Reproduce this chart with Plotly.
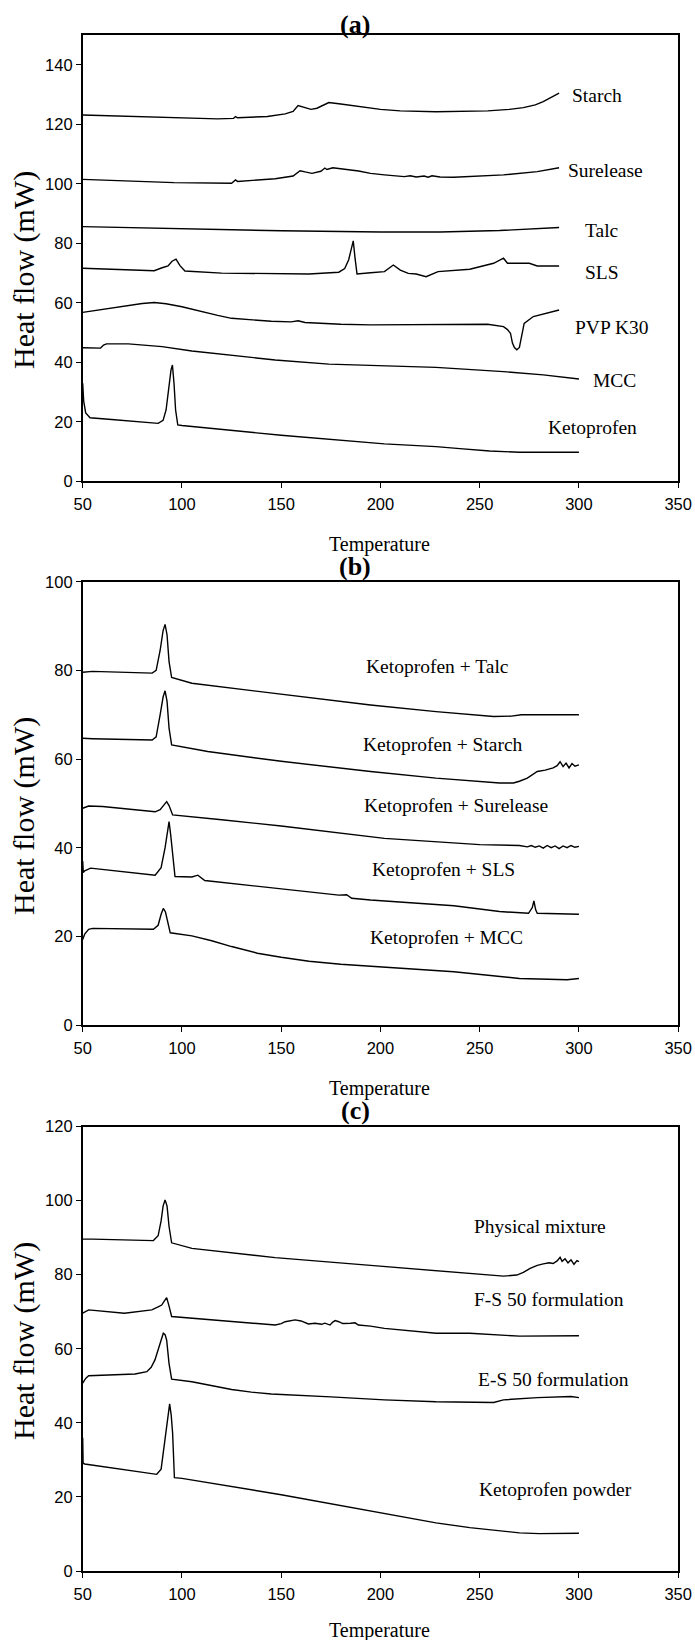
import plotly.graph_objects as go
from plotly.subplots import make_subplots

# ---------------- Panel (a) data ----------------
starch_t = [50, 80, 118, 126, 127, 128, 143, 152, 156, 158.5, 161, 165, 168, 174, 180, 190, 200, 210, 228, 254, 265, 272, 278, 282, 286, 290]
starch_v = [123.1, 122.6, 121.8, 122.0, 122.6, 122.2, 122.6, 123.5, 124.3, 126.3, 125.8, 125.0, 125.4, 127.3, 126.8, 125.8, 125.0, 124.5, 124.2, 124.5, 125.0, 125.6, 126.5, 127.6, 129.0, 130.5]

surelease_t = [50, 75, 96, 125, 127, 128, 130, 147, 156, 159.5, 162, 165.5, 170, 172, 173, 176, 189, 195, 202, 212, 215, 218, 222, 224, 226, 230, 237, 250, 262, 279, 290]
surelease_v = [101.5, 101.0, 100.4, 100.2, 101.3, 100.8, 100.9, 101.7, 102.6, 104.4, 104.0, 103.5, 104.2, 105.3, 104.8, 105.4, 104.3, 103.5, 103.0, 102.4, 102.7, 102.3, 102.6, 102.2, 102.7, 102.3, 102.2, 102.5, 103.0, 104.1, 105.4]

talc_t = [50, 100, 150, 200, 230, 260, 290]
talc_v = [85.6, 84.9, 84.2, 83.8, 83.8, 84.3, 85.3]

sls_t = [50, 86, 90, 93, 95, 97, 99, 101.5, 120, 164, 179, 182, 184, 185.5, 186.3, 187.2, 188.2, 195, 202, 206.5, 210, 214, 218, 223, 229, 245, 257, 262, 264, 275, 279, 290]
sls_v = [71.6, 70.8, 71.8, 72.4, 74.0, 74.7, 72.5, 70.7, 70.0, 69.7, 70.3, 71.5, 74.5, 79.0, 80.8, 75.0, 69.7, 70.1, 70.5, 72.7, 71.0, 69.9, 69.7, 68.8, 70.5, 71.3, 73.3, 75.0, 73.3, 73.3, 72.4, 72.4]

pvp_t = [50, 60, 70, 80, 86, 92, 100, 110, 118, 125, 135, 145, 155, 158.5, 162, 180, 195, 230, 254, 262, 264, 265.5, 266.5, 267.5, 268.7, 270, 271, 272.4, 277, 290]
pvp_v = [56.8, 57.8, 58.8, 59.8, 60.1, 59.7, 58.7, 57.0, 55.8, 54.8, 54.2, 53.8, 53.6, 54.0, 53.4, 52.8, 52.6, 52.6, 52.8, 52.0, 51.0, 49.8, 46.5, 45.0, 44.2, 45.0, 48.5, 53.1, 55.4, 57.6]

mcc_t = [50, 59, 60.5, 62, 73, 90, 105, 125, 147, 174, 202, 228, 262, 282, 300]
mcc_v = [44.9, 44.8, 45.8, 46.2, 46.2, 45.3, 43.8, 42.3, 40.8, 39.4, 38.8, 38.3, 36.9, 35.8, 34.4]

keto_t = [50, 50.5, 51.5, 53.7, 63, 88, 90.5, 92, 93.3, 94.5, 95.2, 96, 96.8, 97.9, 100, 150, 202, 228, 240, 255, 270, 300]
keto_v = [33, 27, 23, 21.4, 20.9, 19.5, 20.5, 24.0, 31.0, 37.5, 39.1, 33.0, 24.0, 19.0, 18.8, 15.5, 12.6, 11.7, 11.0, 10.2, 9.8, 9.8]

# ---------------- Panel (b) data ----------------
kt_t = [50, 55, 85, 87, 89, 90.5, 91.5, 92.5, 93.5, 94.8, 105, 130, 160, 195, 228, 257, 266, 270, 271, 300]
kt_v = [79.6, 79.8, 79.4, 80.0, 84.5, 89.0, 90.4, 88.0, 82.0, 78.4, 77.1, 75.7, 74.0, 72.2, 70.7, 69.6, 69.7, 69.9, 70.0, 70.0]

ks_t = [50, 55, 85, 87, 89, 90.5, 91.5, 92.5, 93.5, 94.8, 113, 150, 195, 228, 260, 267, 270, 274, 279, 283, 287, 289, 290.5, 292, 293.5, 295, 296.5, 298, 300]
ks_v = [64.7, 64.6, 64.3, 65.0, 70.0, 74.0, 75.4, 73.0, 67.0, 63.2, 61.7, 59.5, 57.2, 55.7, 54.6, 54.6, 55.0, 55.7, 57.2, 57.5, 58.0, 58.5, 59.4, 58.3, 59.1, 58.0, 59.0, 58.4, 58.7]

ksur_t = [50, 53, 60, 86.5, 89, 91, 92.3, 93.5, 95.3, 120, 150, 202, 237, 250, 270, 274, 276, 278, 280, 282, 284, 286, 288, 290, 292, 294, 296, 298, 300]
ksur_v = [48.9, 49.4, 49.3, 48.1, 48.6, 49.8, 50.4, 49.5, 47.4, 46.3, 44.9, 42.1, 41.2, 40.7, 40.5, 40.2, 40.5, 40.1, 40.4, 39.9, 40.5, 40.0, 40.4, 39.8, 40.4, 40.0, 40.5, 40.1, 40.3]

ksls_t = [50, 50.3, 51, 54, 86.5, 89.5, 91.5, 92.8, 93.5, 94.3, 95.3, 96.5, 105, 108, 111.5, 150, 179, 183, 185.5, 195, 237, 260, 274.6, 276.5, 277.3, 278.2, 279, 300]
ksls_v = [37.0, 34.4, 34.8, 35.4, 33.8, 35.5, 40.0, 44.5, 45.9, 43.0, 38.0, 33.5, 33.4, 33.8, 32.6, 30.7, 29.3, 29.4, 28.6, 28.2, 26.9, 25.6, 25.2, 26.5, 28.0, 26.0, 25.2, 25.0]

kmcc_t = [50, 51, 53, 55, 85.6, 88, 89.5, 90.6, 91.7, 93, 94.1, 105, 115, 125, 138, 150, 164, 180, 202, 237, 270, 285, 294, 300]
kmcc_v = [19.3, 20.5, 21.6, 21.8, 21.6, 22.5, 25.0, 26.3, 25.5, 22.5, 20.8, 20.1, 19.0, 17.7, 16.2, 15.3, 14.4, 13.7, 13.0, 12.0, 10.5, 10.4, 10.2, 10.5]

# ---------------- Panel (c) data ----------------
pm_t = [50, 55, 85.6, 88, 89.5, 90.5, 91.5, 92.5, 93.5, 94.8, 105, 147, 195, 228, 255, 262, 268.7, 272, 275.4, 279, 282, 285, 287, 289, 290.5, 291.5, 293, 294.5, 296, 297.5, 299, 300]
pm_v = [89.6, 89.6, 89.2, 90.5, 94.5, 98.5, 100.2, 98.5, 93.0, 88.6, 87.1, 84.6, 82.5, 81.1, 79.8, 79.6, 79.9, 80.6, 81.7, 82.5, 82.9, 83.2, 83.0, 83.7, 84.7, 83.6, 84.3, 83.2, 84.0, 82.8, 83.8, 83.5]

fs_t = [50, 53, 71, 84.8, 88, 89.8, 91, 92.3, 93.5, 94.8, 147, 150, 152, 157, 160, 163.7, 167, 170.4, 172, 174.6, 176, 177.2, 179, 181, 185, 187.2, 188.9, 195, 202, 228, 245, 270, 300]
fs_v = [69.6, 70.5, 69.6, 70.5, 71.3, 71.8, 72.8, 73.8, 71.5, 68.7, 66.4, 66.8, 67.3, 67.8, 67.5, 66.7, 66.9, 66.6, 66.9, 66.4, 67.2, 67.6, 67.3, 66.8, 66.9, 67.0, 66.4, 66.1, 65.5, 64.2, 64.2, 63.4, 63.5]

es_t = [50, 51.5, 53, 60, 76.4, 82.3, 84.5, 86.4, 88.5, 90.6, 91.5, 92.3, 93.5, 94.8, 105, 115, 125, 135, 145, 175, 202, 228, 257, 262, 279, 296, 300]
es_v = [50.7, 52.0, 52.7, 52.9, 53.2, 53.8, 55.0, 57.0, 60.5, 64.2, 63.8, 62.3, 56.0, 51.8, 51.1, 50.0, 49.0, 48.3, 47.8, 47.0, 46.2, 45.7, 45.5, 46.2, 46.8, 47.1, 46.8]

kp_t = [50, 50.2, 51, 87.3, 89.5, 90.6, 91.8, 92.8, 93.8, 94.6, 95.3, 96.2, 100, 150, 194.8, 228, 245, 260, 270, 280, 300]
kp_v = [36.0, 29.1, 28.9, 26.1, 27.5, 31.8, 37.0, 41.7, 45.1, 42.0, 37.2, 25.2, 25.0, 20.6, 16.2, 13.0, 11.7, 10.8, 10.3, 10.1, 10.2]

# ---------------- Labels ----------------
labels_a = ["Starch", "Surelease", "Talc", "SLS", "PVP K30", "MCC", "Ketoprofen"]
labels_a_x = [308.9, 313.2, 311.6, 311.6, 316.6, 317.8, 307.0]
labels_a_y = [129.8, 104.4, 84.2, 70.1, 51.8, 33.8, 18.0]

labels_b = ["Ketoprofen + Talc", "Ketoprofen + Starch", "Ketoprofen + Surelease", "Ketoprofen + SLS", "Ketoprofen + MCC"]
labels_b_x = [228.8, 231.3, 237.9, 231.9, 233.4]
labels_b_y = [80.8, 63.3, 49.6, 35.1, 19.8]

labels_c = ["Physical mixture", "F-S 50 formulation", "E-S 50 formulation", "Ketoprofen powder"]
labels_c_x = [280.2, 284.9, 287.4, 288.0]
labels_c_y = [93.0, 73.4, 51.8, 22.1]

panel_titles = ["(a)", "(b)", "(c)"]
y_ranges = [[0, 150], [0, 100], [0, 120]]
x_range = [50, 350]

# figure div is pinned to the top-left corner of the page
W, H = 694, 1640
SERIF = "Times New Roman, Liberation Serif, serif"
SANS = "Arial, Liberation Sans, sans-serif"


def fx(px):
    return px / W


def fy(py):
    return 1 - py / H


fig = make_subplots(rows=3, cols=1)

panels = [
    [(starch_t, starch_v), (surelease_t, surelease_v), (talc_t, talc_v), (sls_t, sls_v),
     (pvp_t, pvp_v), (mcc_t, mcc_v), (keto_t, keto_v)],
    [(kt_t, kt_v), (ks_t, ks_v), (ksur_t, ksur_v), (ksls_t, ksls_v), (kmcc_t, kmcc_v)],
    [(pm_t, pm_v), (fs_t, fs_v), (es_t, es_v), (kp_t, kp_v)],
]
labels = [(labels_a, labels_a_x, labels_a_y), (labels_b, labels_b_x, labels_b_y), (labels_c, labels_c_x, labels_c_y)]

# pixel geometry of each panel (top, bottom)
px_x = (82.7, 678.2)
px_y = [(35.0, 481.4), (581.8, 1025.0), (1126.5, 1571.0)]
title_y = [24, 566, 1110]
xtitle_y = [545, 1088, 1630]
ytitle_y = [270, 816, 1341]

for i, series in enumerate(panels):
    r = i + 1
    for t, v in series:
        fig.add_trace(go.Scatter(x=t, y=v, mode="lines", line=dict(color="black", width=1.4),
                                 showlegend=False, hoverinfo="skip"), row=r, col=1)
    names, lx, ly = labels[i]
    xref = "x" if i == 0 else f"x{i+1}"
    yref = "y" if i == 0 else f"y{i+1}"
    for n, xx, yy in zip(names, lx, ly):
        fig.add_annotation(x=xx, y=yy, xref=xref, yref=yref, text=n, showarrow=False,
                           xanchor="center", yanchor="middle",
                           font=dict(family=SERIF, size=19.5, color="black"))
    top, bot = px_y[i]
    xa = "xaxis" if i == 0 else f"xaxis{i+1}"
    ya = "yaxis" if i == 0 else f"yaxis{i+1}"
    fig.layout[xa].update(domain=[fx(px_x[0]), fx(px_x[1])], range=x_range, dtick=50, tick0=50,
                          automargin=False,
                          showgrid=False, zeroline=False, showline=True, linecolor="black", linewidth=1.5,
                          mirror=True, ticks="outside", ticklen=5, tickwidth=1.2, tickcolor="black",
                          ticklabelstandoff=2,
                          tickfont=dict(family=SANS, size=16.5, color="black"))
    fig.layout[ya].update(domain=[fy(bot), fy(top)], range=y_ranges[i], dtick=20, tick0=0,
                          automargin=False,
                          showgrid=False, zeroline=False, showline=True, linecolor="black", linewidth=1.5,
                          mirror=True, ticks="outside", ticklen=5, tickwidth=1.2, tickcolor="black",
                          tickfont=dict(family=SANS, size=16.5, color="black"))
    fig.add_annotation(x=fx(355), y=fy(title_y[i]), xref="paper", yref="paper",
                       text=f"<b>{panel_titles[i]}</b>", showarrow=False,
                       xanchor="center", yanchor="middle",
                       font=dict(family=SERIF, size=26, color="black"))
    fig.add_annotation(x=fx(380), y=fy(xtitle_y[i]), xref="paper", yref="paper",
                       text="Temperature", showarrow=False,
                       xanchor="center", yanchor="middle",
                       font=dict(family=SERIF, size=20, color="black"))
    fig.add_annotation(x=fx(24), y=fy(ytitle_y[i]), xref="paper", yref="paper",
                       text="Heat flow (mW)", textangle=-90, showarrow=False,
                       xanchor="center", yanchor="middle",
                       font=dict(family=SERIF, size=30, color="black"))

fig.update_layout(margin=dict(l=0, r=0, t=0, b=0, pad=0, autoexpand=False),
                  paper_bgcolor="white", plot_bgcolor="white", showlegend=False)

fig.write_html("out.html",
               default_width=f"{W}px; position:absolute; left:0px; top:0px",
               default_height=f"{H}px")
